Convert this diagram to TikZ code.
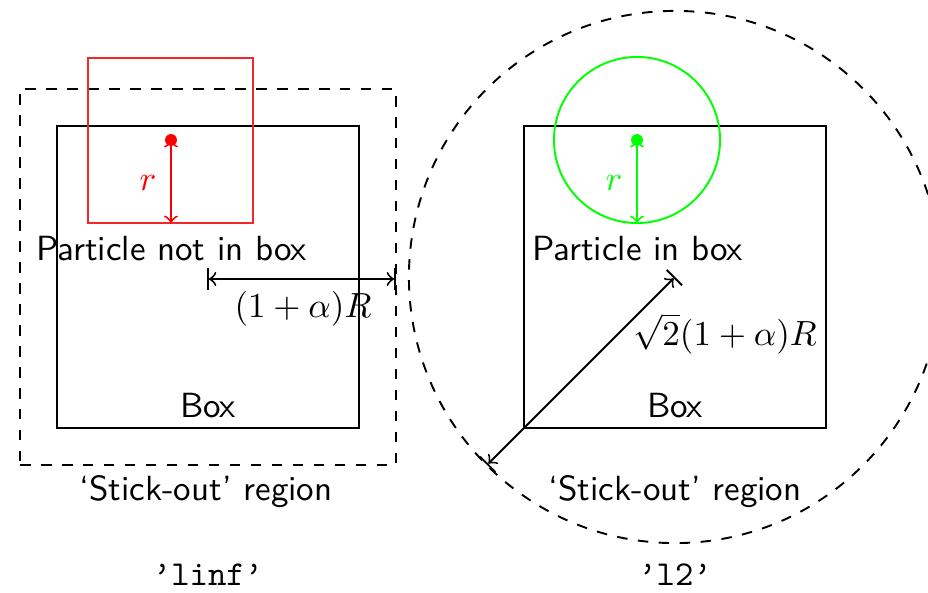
\documentclass[tikz,border=0pt]{standalone}
\usetikzlibrary{arrows,calc}
\definecolor{sqred}{RGB}{240,40,40}
\begin{document}
\begin{tikzpicture}[x=0.286pt,y=-0.286pt,font=\sffamily,line width=0.55pt,
  boxst/.style={draw,inner sep=0pt,minimum size=86.37pt},
  stickst/.style={draw,dashed,inner sep=0pt,minimum size=107.5pt},
  lbl/.style={anchor=base,inner sep=0pt},
  dotst/.style={circle,fill,inner sep=0pt,minimum size=3.4pt}]
\useasboundingbox (0,0) rectangle (928,593);
% ---------- left: linf ----------
\node[boxst] (LB) at (208,277) {};
\node[stickst] (LS) at (208,277) {};
\node[dotst,red] (RD) at (171,140) {};
\draw[sqred,line width=0.6pt] ($(RD.center)+(-83,-82)$) rectangle ($(RD.center)+(82,83)$);
\coordinate (RE) at (171,223);
\draw[red,<->] (RD.center) -- (RE);
\node[red] (RL) at (148,183) {$r$};
\coordinate (HA) at (207,279);
\coordinate (HB) at (396,279);
\draw[|<->|] (HA) -- (HB);
\node[lbl] (PN) at (171.5,261) {Particle not in box};
\node[lbl] (HL) at (303,318) {$(1+\alpha)R$};
\node[lbl] (BL) at (208,417) {Box};
\node[lbl] (SL) at (206,500) {`Stick-out' region};
\node[lbl] (NL) at (208,585) {\ttfamily ’linf’};
% ---------- right: l2 ----------
\node[boxst] (RB) at (675,277) {};
\node[draw,dashed,circle,inner sep=0pt,minimum size=152.2pt] (RC) at (675,277) {};
\node[draw,green,circle,inner sep=0pt,minimum size=47.5pt] (GC) at (637,140) {};
\node[dotst,green] (GD) at (637,140) {};
\coordinate (GE) at (637,223);
\draw[green,<->] (GD.center) -- (GE);
\node[green] (GL) at (614,183) {$r$};
\coordinate (DE) at (487,465);
\draw[|<->|] (RB.center) -- (DE);
\node[lbl] (PI) at (637.5,261) {Particle in box};
\node[lbl] (DL) at (725,345) {$\sqrt{2}(1+\alpha)R$};
\node[lbl] (BR) at (675,417) {Box};
\node[lbl] (SR) at (675,500) {`Stick-out' region};
\node[lbl] (NR) at (675,585) {\ttfamily ’l2’};
\end{tikzpicture}
\end{document}
